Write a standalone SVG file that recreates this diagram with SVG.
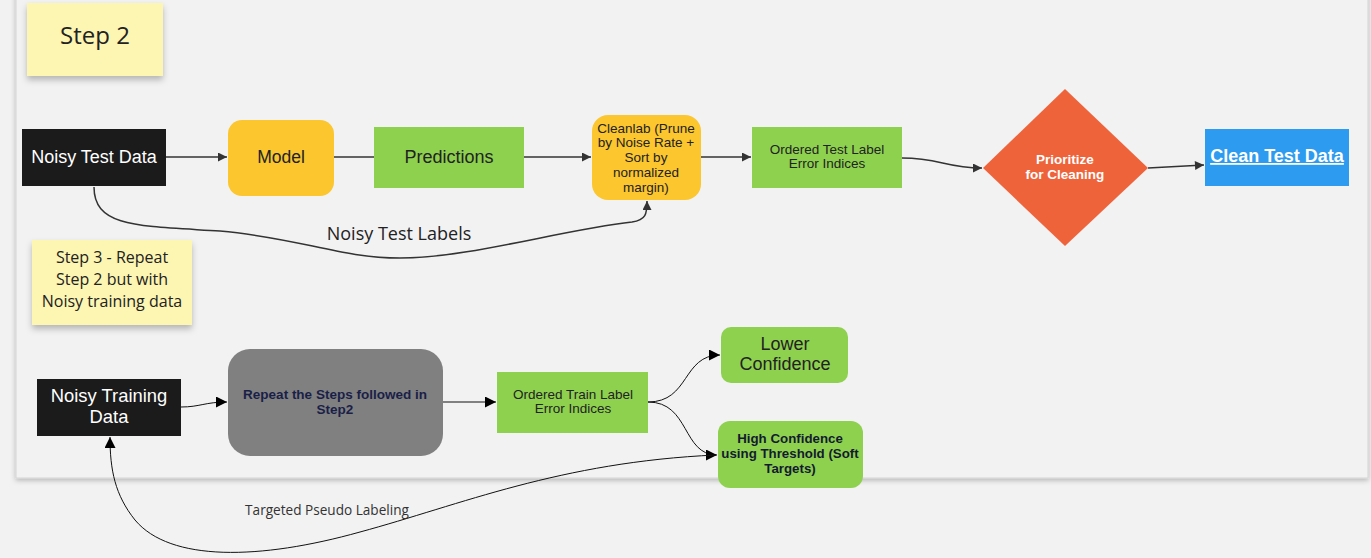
<svg xmlns="http://www.w3.org/2000/svg" width="1371" height="558" viewBox="0 0 1371 558">
<style>
.sans{font-family:"Liberation Sans",Arial,sans-serif}
.open{font-family:"Open Sans","Noto Sans",sans-serif}
.c1{fill:none;stroke:#333;stroke-width:1.5}
.c2{fill:none;stroke:#111;stroke-width:1}
.green{fill:#8ed14f}
.yel{fill:#fcc62f}
.blk{fill:#1b1b1b}
.sticky{fill:#fdf5b2}
</style>
<defs>
<marker id="a1" viewBox="0 0 10 10" refX="10" refY="5" markerWidth="12" markerHeight="9" markerUnits="userSpaceOnUse" orient="auto"><path d="M0,0 L10,5 L0,10 z" fill="#333"/></marker>
<marker id="a2" viewBox="0 0 10 10" refX="10" refY="5" markerWidth="13" markerHeight="11" markerUnits="userSpaceOnUse" orient="auto"><path d="M0,0 L10,5 L0,10 z" fill="#000"/></marker>
<filter id="sh" x="-5%" y="-5%" width="110%" height="115%"><feDropShadow dx="0" dy="2" stdDeviation="2.5" flood-color="#000" flood-opacity="0.25"/></filter>
<filter id="sh2" x="-10%" y="-10%" width="120%" height="130%"><feDropShadow dx="0" dy="4" stdDeviation="3" flood-color="#000" flood-opacity="0.25"/></filter>
</defs>
<rect width="1371" height="558" fill="#f2f2f2"/>
<rect x="16" y="-10" width="1352" height="488" fill="#f2f2f2" stroke="#d4d4d4" stroke-width="1" filter="url(#sh)"/>

<g id="sticky-step2"><rect class="sticky" x="27" y="3" width="136" height="73" filter="url(#sh2)"/><text class="open" x="95" y="44" font-size="24" text-anchor="middle" fill="#222">Step 2</text></g>
<g id="sticky-step3"><rect class="sticky" x="32" y="240" width="160" height="85" filter="url(#sh2)"/><text class="open" font-size="16" text-anchor="middle" fill="#222"><tspan x="112" y="263">Step 3 - Repeat</tspan><tspan x="112" y="285">Step 2 but with</tspan><tspan x="112" y="307">Noisy training data</tspan></text></g>

<g id="connectors">
<path class="c1" d="M166,157 L227,157" marker-end="url(#a1)"/>
<path class="c1" d="M334,157 L374,157"/>
<path class="c1" d="M524,157 L591,157" marker-end="url(#a1)"/>
<path class="c1" d="M701,157 L751,157" marker-end="url(#a1)"/>
<path class="c1" d="M902,158 C940,158 945,168 982,168" marker-end="url(#a1)"/>
<path class="c1" d="M1148,168 L1204,165" marker-end="url(#a1)"/>
<path class="c1" d="M94,187 C94,228 140,226 220,231 C300,238 340,258 400,258 C470,258 560,230 632,222 C646,220 647,214 647,201" marker-end="url(#a1)"/>
<path class="c2" d="M181,407 C200,407 205,402 227,402" marker-end="url(#a2)"/>
<path class="c2" d="M443,402 L496,402" marker-end="url(#a2)"/>
<path class="c2" d="M648,402 C690,402 682,355 720,355" marker-end="url(#a2)"/>
<path class="c2" d="M648,402 C690,402 682,455 717,455" marker-end="url(#a2)"/>
<path class="c2" d="M716,455 C560,462 460,505 360,532 C260,560 170,562 135,520 C115,495 110,470 110,437" marker-end="url(#a2)"/>
<text class="open" x="399" y="240" font-size="18" text-anchor="middle" fill="#222">Noisy Test Labels</text>
<text class="open" x="327" y="515" font-size="13.6" text-anchor="middle" fill="#333">Targeted Pseudo Labeling</text>
</g>

<g id="noisy-test-data"><rect class="blk" x="22" y="129" width="144" height="57"/><text class="sans" x="94" y="163" font-size="18" text-anchor="middle" fill="#fff">Noisy Test Data</text></g>
<g id="model"><rect class="yel" x="228" y="120" width="106" height="76" rx="14"/><text class="sans" x="281" y="163" font-size="17.5" text-anchor="middle" fill="#222">Model</text></g>
<g id="predictions"><rect class="green" x="374" y="127" width="150" height="61"/><text class="sans" x="449" y="163" font-size="18" text-anchor="middle" fill="#222">Predictions</text></g>
<g id="cleanlab"><rect class="yel" x="592" y="115" width="109" height="85" rx="16"/><text class="sans" font-size="13.5" text-anchor="middle" fill="#222"><tspan x="646" y="133">Cleanlab (Prune</tspan><tspan x="646" y="147">by Noise Rate +</tspan><tspan x="646" y="162">Sort by</tspan><tspan x="646" y="177">normalized</tspan><tspan x="646" y="192">margin)</tspan></text></g>
<g id="ordered-test"><rect class="green" x="752" y="127" width="150" height="61"/><text class="sans" font-size="13.5" text-anchor="middle" fill="#222"><tspan x="827" y="154">Ordered Test Label</tspan><tspan x="827" y="168">Error Indices</tspan></text></g>
<g id="prioritize"><polygon points="1065,89 1148,168 1065,246 983,168" fill="#ef633b"/><text class="sans" font-size="13.5" font-weight="bold" text-anchor="middle" fill="#fff"><tspan x="1065" y="164">Prioritize</tspan><tspan x="1065" y="179">for Cleaning</tspan></text></g>
<g id="clean-test-data"><rect x="1205" y="129" width="144" height="57" fill="#2d9bf0"/><text class="sans" x="1277" y="162" font-size="18" font-weight="bold" text-anchor="middle" fill="#fff" text-decoration="underline">Clean Test Data</text></g>

<g id="noisy-training-data"><rect class="blk" x="37" y="379" width="144" height="57"/><text class="sans" font-size="18.4" text-anchor="middle" fill="#fff"><tspan x="109" y="402">Noisy Training</tspan><tspan x="109" y="423">Data</tspan></text></g>
<g id="repeat"><rect x="228" y="349" width="215" height="107" rx="22" fill="#808080"/><text class="sans" font-size="13.5" font-weight="bold" text-anchor="middle" fill="#1a1f48"><tspan x="335" y="399">Repeat the Steps followed in</tspan><tspan x="335" y="414">Step2</tspan></text></g>
<g id="ordered-train"><rect class="green" x="497" y="372" width="151" height="61"/><text class="sans" font-size="13.5" text-anchor="middle" fill="#222"><tspan x="573" y="399">Ordered Train Label</tspan><tspan x="573" y="413">Error Indices</tspan></text></g>
<g id="lower-confidence"><rect class="green" x="721" y="327" width="127" height="56" rx="10"/><text class="sans" font-size="18" text-anchor="middle" fill="#222"><tspan x="785" y="350">Lower</tspan><tspan x="785" y="370">Confidence</tspan></text></g>
<g id="high-confidence"><rect class="green" x="718" y="421" width="145" height="67" rx="12"/><text class="sans" font-size="13.3" font-weight="bold" text-anchor="middle" fill="#141a30"><tspan x="790" y="443">High Confidence</tspan><tspan x="790" y="458">using Threshold (Soft</tspan><tspan x="790" y="473">Targets)</tspan></text></g>
</svg>
